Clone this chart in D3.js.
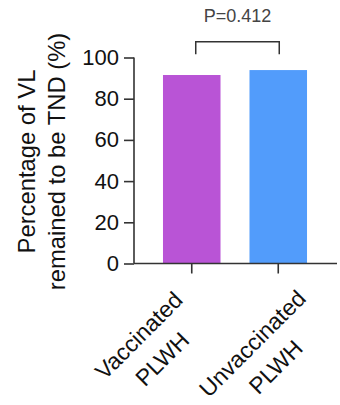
<!DOCTYPE html>
<html>
<head>
<meta charset="utf-8">
<script src="https://cdn.jsdelivr.net/npm/d3@7"></script>
<style>
  html, body { margin: 0; padding: 0; background: #fff; }
  svg { display: block; font-family: "Liberation Sans", Arial, sans-serif; }
</style>
</head>
<body>
<svg id="chart" width="340" height="405"></svg>
<script>
// ---- data ----
const categories = ["Vaccinated PLWH", "Unvaccinated PLWH"];
const labelLines = [["Vaccinated", "PLWH"], ["Unvaccinated", "PLWH"]];
const values = [91.5, 93.9];
const colors = ["#B954D6", "#529CFB"];
const yTicks = [0, 20, 40, 60, 80, 100];
const pValueText = "P=0.412";
const yTitleLines = ["Percentage of VL", "remained to be TND (%)"];

// ---- layout (not data) ----
const labelNudge = [[-53, 72], [-26, 80]]; // first-line centre relative to tick
const svg = d3.select("#chart");
const axisColor = "#333";
const x = d3.scaleBand().domain(categories).range([134, 336])
  .paddingInner(0.335).paddingOuter(0.335);
const y = d3.scaleLinear().domain([0, 100]).range([263.5, 57.5]);

// bars
svg.selectAll("rect.bar").data(values).enter().append("rect")
  .attr("class", "bar")
  .attr("x", (d, i) => x(categories[i]))
  .attr("width", x.bandwidth())
  .attr("y", d => y(d))
  .attr("height", d => y(0) - y(d))
  .attr("fill", (d, i) => colors[i]);

// y axis
const yAxis = d3.axisLeft(y).tickValues(yTicks).tickSize(10).tickPadding(5);
const gy = svg.append("g").attr("transform", "translate(134,0)").call(yAxis);
gy.select(".domain").attr("stroke", axisColor).attr("stroke-width", 1.6)
  .attr("d", `M0,${y(0)}V${y(100)}`);
gy.selectAll(".tick line").attr("stroke", axisColor).attr("stroke-width", 1.6);
gy.selectAll(".tick text").attr("font-size", 22).attr("fill", "#111")
  .attr("font-family", "Liberation Sans, Arial, sans-serif");

// x axis
const xAxis = d3.axisBottom(x).tickSize(10).tickFormat("");
const gx = svg.append("g").attr("transform", `translate(0,${y(0)})`).call(xAxis);
gx.select(".domain").attr("stroke", axisColor).attr("stroke-width", 1.6)
  .attr("d", "M134,0H337");
gx.selectAll(".tick line").attr("stroke", axisColor).attr("stroke-width", 1.6);

// x labels rotated
const fs = 23;
categories.forEach((c, i) => {
  const cx = x(c) + x.bandwidth() / 2;
  const g = svg.append("g")
    .attr("transform", `translate(${cx + labelNudge[i][0]},${y(0) + labelNudge[i][1]}) rotate(-45)`);
  labelLines[i].forEach((t, j) => {
    g.append("text").attr("x", 0).attr("y", j * 33).attr("dy", "0.35em")
      .attr("text-anchor", "middle")
      .attr("font-size", fs).attr("fill", "#111").text(t);
  });
});

// y title
const ty = svg.append("g").attr("transform", `translate(0,${(y(0) + y(100)) / 2 + 1}) rotate(-90)`);
yTitleLines.forEach((t, j) => {
  ty.append("text").attr("x", 0).attr("y", 35 + j * 29.5)
    .attr("text-anchor", "middle").attr("font-size", 23.8).attr("fill", "#111").text(t);
});

// significance bracket
const bx1 = x(categories[0]) + x.bandwidth() / 2 + 4;
const bx2 = x(categories[1]) + x.bandwidth() / 2 + 1;
const bTop = y(107.7), bBot = y(101.6);
svg.append("path")
  .attr("d", `M${bx1},${bBot}V${bTop}H${bx2}V${bBot}`)
  .attr("fill", "none").attr("stroke", axisColor).attr("stroke-width", 1.5);
svg.append("text").attr("x", (bx1 + bx2) / 2).attr("y", 21.5)
  .attr("text-anchor", "middle").attr("font-size", 18).attr("fill", "#444")
  .text(pValueText);
</script>
</body>
</html>
